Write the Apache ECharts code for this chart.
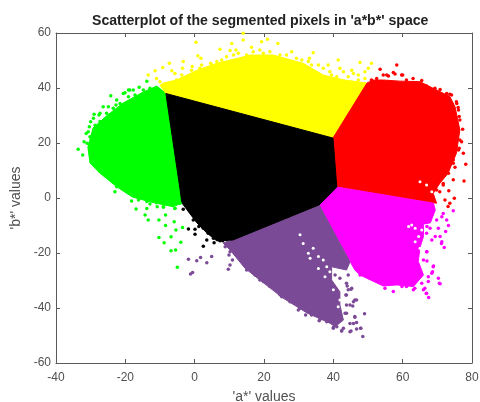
<!DOCTYPE html>
<html><head><meta charset="utf-8">
<style>html,body{margin:0;padding:0;background:#fff}#c{width:480px;height:402px}</style>
<script src="https://cdn.jsdelivr.net/npm/echarts@6/dist/echarts.min.js"></script>
</head><body><div id="c"></div>
<script>
// Dense body of each cluster: outline in (a*, b*) values
const greenBody=[[-8.3,38],[-10.9,40.7],[-14.9,38.5],[-20.7,34.5],[-25.3,30],[-29.3,25.5],[-30.8,18.5],[-30.2,12.7],[-27.3,9],[-22.4,4],[-18,0.4],[-12.9,-1.4],[-6.2,-3.2],[-3.7,-1.8],[-4.2,3]];
const yellowBody=[[-8.3,38],[-10,41],[-9,41.8],[-5,43],[0.7,46.5],[6.4,49],[13,51],[16,52],[22.6,52],[31.3,49],[37.1,44.7],[42.8,43],[49.7,41.8],[39.9,21.8]];
const redBody=[[39.9,21.8],[49.7,41.8],[51.5,42.9],[54.4,42.9],[59.2,42.5],[65,42.3],[68.8,39.9],[73.6,36.9],[75.1,33.2],[76.5,24.7],[75.5,16.3],[73.1,9],[70.7,5.3],[68.8,1.7],[69.8,-1.9],[41,4]];
const magentaBody=[[41,4],[68.9,-1.9],[69.4,-4.4],[68,-9],[66,-9.5],[66,-14],[65,-18],[64.5,-23],[66,-28],[63.1,-32.2],[58.3,-31.6],[54.4,-32],[47.7,-28],[46.2,-26.2],[35.9,-2.5]];
const purpleBody=[[35.9,-2.5],[44.8,-23.3],[43.8,-26.2],[39.5,-25],[39.5,-29.8],[41.9,-34.1],[41.9,-38.9],[42.9,-44.4],[40.5,-46.8],[39,-45.5],[32.4,-41.8],[25.5,-36.4],[18.8,-29.8],[14.5,-25.5],[10.2,-18.9],[8.2,-16.4],[11,-15.3]];
const blackBody=[[-8.3,38],[39.9,21.8],[41,4],[35.9,-2.5],[11,-15.3],[6.4,-15.6],[3.5,-12.7],[0.6,-9],[-3.7,-1.8],[-4.2,3]];

// Individually visible points
const greenPts=[[-33.6,17.7],[-32.3,15.6],[-30.7,24.1],[-31.9,20.5],[-30,27.7],[-29,30.5],[-27.6,30.2],[-24.2,37.2],[-26.4,33.2],[-22.7,33.8],[-20.1,38.3],[-18.7,39.3],[-16,40.3],[-13.8,42.5],[-23,2.3],[-16.9,-4],[-14.3,-6.2],[-13.4,-8],[-10.3,-8],[-8.4,-6.2],[-8.4,-10],[-5.9,-8.6],[-5.4,-11.6],[-3.5,-10.7],[-10.3,-14.4],[-8.8,-16.3],[-6.8,-14.1],[-4,-16.1],[-6.8,-19.2],[-5.5,-18.9],[-5,-25.2],[-13.8,-3.8],[-10.8,-3.2],[-9,-3.4],[-5.7,-3.8],
[-12.9,39.9],[-14.8,39.3],[-17.2,37.5],[-19.1,36.8],[-17.7,39.3],[-21.5,34.4],[-23.5,32.6],[-25.4,30.8],[-27.3,27.8],[-28.7,26.5],[-30.2,22.3],[-31,19.9],[-29.7,15],[-28.8,12],[-27.3,9.6],[-24.4,7.2],[-22.5,4.1],[-19.6,2.3],[-16.7,0.5],[-22.5,35.6],[-24.9,33.2],[-27.3,30.8],[-29.2,29],[-30.4,25.9],[-31.3,23.5],[-30.2,17.5],[-20.6,38],[-19.1,39.3],
[-18.2,-1.1],[-16.2,-0.7],[-13.8,-1.3],[-12.9,-2.2],[-11,-1.7],[-9,-3.1],[-7.6,-1.3],[-5.7,-3.7],[-4.2,-1.9]];
const blackPts=[[-3.3,-4.1],[-0.4,-8],[-1.8,-11.3],[0.1,-11.4],[0.1,-13.2],[1.2,-10.4],[2.5,-17.5],[3.5,-15.3],[5.6,-16.3],[8.1,-15.5],
[-2.3,-1.9],[-0.9,-3.7],[0.1,-5.5],[1.5,-8],[2.5,-11],[3.9,-12.8],[5.4,-14.6],[7.3,-15.5],[9.2,-15.2]];
const purplePts=[[-1.8,-22.3],[0.6,-22.8],[1.7,-21.6],[3.5,-23.5],[4.9,-21.3],[-1.2,-27.6],[-0.6,-27.1],[9.7,-25.9],[10.2,-24.4],[10.9,-22.5],[9.9,-20.7],[48.5,-50.4],[47.9,-47.4],[49,-42.1],[46.2,-43.4],[45.1,-48.4],[46.7,-45.3],[42.4,-48.3],[46.7,-37.1],[45.6,-39.3],[43.8,-38.9],[45.1,-33.2],[44,-32],[44.3,-28],[43.6,-35.3],[29.9,-40.7],[32,-42.5],[35.9,-44.6],[40,-47.4],[25.1,-35.9],[18.8,-29.8],[15,-26.2],[40.5,-28],[41.9,-29.2],[43.8,-31],[45.3,-32.8],[43.8,-35.3],[46.2,-37.1],[44.8,-38.9],[43.4,-41.9],[46.2,-43.1],[44.8,-45.6],[46.7,-47.6],[47.9,-47.4],[42.4,-48.4],[40,-47.1],[44.8,-48.6],
[17.4,-28],[19.8,-30.4],[21.7,-32.2],[24.6,-35.2],[27.5,-37.7],[30.4,-40.1],[33.7,-42.5],[36.1,-44.3],[38.1,-45],[41,-46.8],[42.9,-47.4],[45.8,-45.6],[41.9,-44.3],[43.8,-41.9],[45.8,-37.7],[44.3,-33.4],
[8.8,-17.7],[10.2,-19.5],[11.6,-18.9],[12.6,-20.7],[11.2,-17.7]];
const magentaPts=[[73.2,-10],[72.4,-12.2],[72,-18],[71.3,-15.9],[69.4,-14],[68.4,-15.3],[70.8,-14],[70.3,-11],[67.9,-11],[67,-10.4],[67,-19.5],[67,-22.9],[68.9,-24.7],[68.4,-27.4],[70.3,-29.2],[70.6,-31],[67.4,-30.4],[65.5,-31],[66,-33.4],[66.8,-34.7],[67.5,-36.2],[57.3,-34],[54.9,-32.8],[59.8,-32.2],[63.1,-33.4],[72.7,-8],[71.3,-6.8],
[47.7,-28],[49.1,-26.8],[50.6,-29.2],[52.5,-29.8],[59.2,-31],[61.1,-32.2],[63.5,-32.8],[66.4,-32.8],[66.9,-34.6],[70.8,-31.2],[68.8,-25],[68.6,-26.8],[67.4,-28.6],[66,-22.5],[66.9,-19.5],[71.2,-16.5],[74.6,-4.6],[69.8,-8],[71.7,-5.6],[66.9,-12.8]];
const redPts=[[60,44.7],[63,43.5],[65.5,42.7],[73.6,37.7],[75.5,35],[76,32.9],[76.3,29.6],[77.3,25],[77,20.5],[76.3,18.1],[77.5,16.3],[78.2,12.3],[77.7,6.2],[74.6,13.8],[75.1,11.2],[74.6,6.6],[73.3,2.6],[74.9,-0.1],[73.6,-1.9],[71.7,4.7],[70.7,2.3],[72.2,-0.7],[73.1,-3.1],[58.3,48.4],[53.5,46.8],[55.4,44.7],[57.3,45.6],
[51,42.9],[52.5,43.5],[54.4,44.7],[55.9,44.4],[57.8,45.1],[59.7,44.7],[61.1,42.9],[66.9,40.7],[69.3,39.9],[70.8,39.5],[72.7,38],[74.1,37.5],[75.6,34.4],[76.1,32],[76.5,28.4],[76.5,21.1],[76.1,17.5],[74.6,12.6],[73.2,9],[71.7,5.3],[69.8,2.9],[68.4,0.5]];
const yellowPts=[[0.4,56.6],[0.9,51.7],[1.8,50.8],[2,48.4],[-3.3,49.6],[-7.3,49],[-9.2,47.5],[-11.4,46.3],[-13.4,44.7],[-11,43.5],[-6.6,46.3],[-5.7,45.3],[-3.5,47.2],[10.7,56.2],[7.3,54.1],[10.2,53.6],[11.9,53.8],[7.8,50.2],[4.6,49],[-0.7,47.8],[14,59.9],[14,57.5],[19.3,56.8],[21,57.7],[24,56.2],[18.8,53.8],[16.4,54.8],[28,53.2],[34.2,52.8],[33.1,50.8],[41.4,50.2],[47.7,49.3],[51,49],[50.1,47.2],[49.1,45.9],[38.5,48.4],[41.9,47.2],[45.3,46.5],[47.2,44.7],[39.5,44.7],
[-10,42.3],[-8.1,41.1],[-6.6,41.7],[-5.2,42.9],[-3.7,43.5],[-3.7,44.7],[-2.3,44.1],[-0.9,46.5],[0.6,45.3],[1.5,47.2],[3.5,46.5],[4.9,48.4],[6.4,49.6],[8.3,48.4],[9.2,51.4],[11.2,52],[12.6,52.6],[15,52],[16.9,53.2],[19.8,52.6],[21.7,53.2],[24.6,52],[26.5,52],[29.4,50.8],[30.9,50.2],[32.8,49.6],[33.7,48.4],[35.7,48.4],[37.1,47.2],[39,45.9],[41,44.1],[42.9,45.9],[44.3,44.1],[45.8,45.3],[47.2,42.9],[49.1,43.5]];
// Sparse gaps inside the clusters
const purpleGaps=[[30.4,-13.4],[31.3,-16.5],[34.2,-18.3],[32.8,-20.1],[35.7,-21.3],[37.1,-22.5],[38.1,-25],[33.3,-21.9],[35.7,-25.6],[37.6,-28.6],[39,-26.8],[40.5,-29.8],[40,-33.4],[41.9,-37.1],[41.4,-39.5]];
const magentaGaps=[[61.7,-10.4],[62.6,-9.8],[63.6,-11],[65.5,-11.6],[64.6,-14],[63.6,-15.9],[65,-18.3]];
const redGaps=[[65,5.9],[66.9,4.7],[68.4,2.3]];

const xTicks=[-40,-20,0,20,40,60,80];
const yTicks=[-60,-40,-20,0,20,40,60];
const titleText="Scatterplot of the segmented pixels in 'a*b*' space";
const xName="'a*' values";
const yName="'b*' values";

const FONT='"Liberation Sans", Arial, sans-serif';
const AXC='#5a5a5a';
const TXT='#505050';

function body(pts,color,z){
  return {type:'custom',coordinateSystem:'cartesian2d',data:pts,z:z,silent:true,clip:true,
    encode:{x:0,y:1},
    renderItem:function(p,api){
      if(p.dataIndex!==0) return null;
      return {type:'polygon',shape:{points:pts.map(q=>api.coord(q))},style:{fill:color,stroke:color,lineWidth:1}};
    }};
}
function dots(pts,color,z,size){
  return {type:'scatter',data:pts,symbolSize:size||3.5,itemStyle:{color:color,opacity:1},z:z,silent:true};
}
function axisBase(extra){
  return Object.assign({
    type:'value',min:-40,max:80,interval:20,
    axisLine:{show:true,onZero:false,lineStyle:{color:AXC,width:1}},
    axisTick:{show:true,inside:true,length:4,lineStyle:{color:AXC,width:1}},
    splitLine:{show:false},
    axisLabel:{show:false}
  },extra);
}
const chart=echarts.init(document.getElementById('c'),null,{renderer:'canvas'});
chart.setOption({
  animation:false,backgroundColor:'#fff',
  title:{text:titleText,left:87,top:9,
    textStyle:{fontFamily:FONT,fontSize:14.1,fontWeight:'bold',color:'#222'}},
  grid:{left:56,right:8,top:33,bottom:39,containLabel:false,outerBoundsMode:'none'},
  xAxis:[
    axisBase({position:'bottom',name:xName,nameLocation:'middle',nameGap:27,
      nameTextStyle:{fontFamily:FONT,fontSize:14,color:TXT},
      axisLabel:{show:true,fontFamily:FONT,fontSize:12,color:TXT,margin:9,
        formatter:v=>xTicks.includes(v)?String(v):''}}),
    axisBase({position:'top'})
  ],
  yAxis:[
    axisBase({min:-60,max:60,position:'left',name:yName,nameLocation:'middle',nameGap:30,
      nameTextStyle:{fontFamily:FONT,fontSize:14,color:TXT},
      axisLabel:{show:true,fontFamily:FONT,fontSize:12,color:TXT,margin:5,
        formatter:v=>yTicks.includes(v)?String(v):''}}),
    axisBase({min:-60,max:60,position:'right'})
  ],
  series:[
    body(greenBody,'#00ff00',2),
    body(yellowBody,'#ffff00',2),
    body(redBody,'#ff0000',2),
    body(magentaBody,'#ff00ff',3),
    body(purpleBody,'#7b4a96',3),
    dots(purpleGaps,'#ffffff',4,3),
    dots(magentaGaps,'#ffffff',4,3),
    dots(redGaps,'#ffffff',4,3),
    body(blackBody,'#000000',5),
    dots(greenPts,'#00ff00',6),
    dots(yellowPts,'#ffff00',6),
    dots(redPts,'#ff0000',6),
    dots(magentaPts,'#ff00ff',6),
    dots(purplePts,'#7b4a96',6),
    dots(blackPts,'#000000',6)
  ]
});
</script></body></html>
